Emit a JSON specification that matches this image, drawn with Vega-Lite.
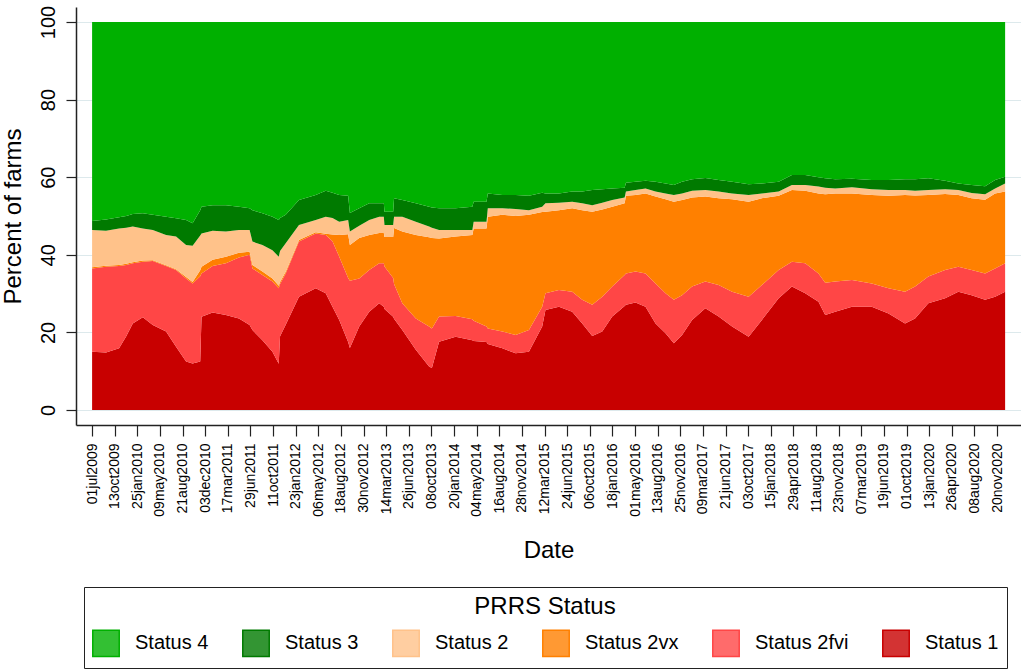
{
  "$schema": "https://vega.github.io/schema/vega-lite/v6.json",
  "width": 945,
  "height": 418,
  "autosize": "none",
  "padding": {"left": 76, "top": 7, "right": 0, "bottom": 244},
  "background": "white",
  "config": {
    "view": {"stroke": null},
    "font": "Liberation Sans",
    "axis": {"labelColor": "#000", "titleColor": "#000", "domainColor": "#222", "tickColor": "#222", "titleFontWeight": "normal"}
  },
  "data": {
    "values": [
      {"d":"2009-07-01","s":"Status 1","v":15.0},{"d":"2009-07-01","s":"Status 2fvi","v":21.5},{"d":"2009-07-01","s":"Status 2vx","v":0.3},{"d":"2009-07-01","s":"Status 2","v":9.6},{"d":"2009-07-01","s":"Status 3","v":2.3},{"d":"2009-07-01","s":"Status 4","v":51.3},
      {"d":"2009-09-03","s":"Status 1","v":14.8},{"d":"2009-09-03","s":"Status 2fvi","v":22.1},{"d":"2009-09-03","s":"Status 2vx","v":0.3},{"d":"2009-09-03","s":"Status 2","v":9.0},{"d":"2009-09-03","s":"Status 3","v":2.9},{"d":"2009-09-03","s":"Status 4","v":50.9},
      {"d":"2009-11-02","s":"Status 1","v":15.9},{"d":"2009-11-02","s":"Status 2fvi","v":21.2},{"d":"2009-11-02","s":"Status 2vx","v":0.3},{"d":"2009-11-02","s":"Status 2","v":9.4},{"d":"2009-11-02","s":"Status 3","v":2.9},{"d":"2009-11-02","s":"Status 4","v":50.3},
      {"d":"2009-12-05","s":"Status 1","v":19.0},{"d":"2009-12-05","s":"Status 2fvi","v":18.4},{"d":"2009-12-05","s":"Status 2vx","v":0.3},{"d":"2009-12-05","s":"Status 2","v":9.3},{"d":"2009-12-05","s":"Status 3","v":3.0},{"d":"2009-12-05","s":"Status 4","v":50.0},
      {"d":"2010-01-04","s":"Status 1","v":22.3},{"d":"2010-01-04","s":"Status 2fvi","v":15.5},{"d":"2010-01-04","s":"Status 2vx","v":0.3},{"d":"2010-01-04","s":"Status 2","v":9.2},{"d":"2010-01-04","s":"Status 3","v":3.2},{"d":"2010-01-04","s":"Status 4","v":49.5},
      {"d":"2010-02-19","s":"Status 1","v":23.9},{"d":"2010-02-19","s":"Status 2fvi","v":14.3},{"d":"2010-02-19","s":"Status 2vx","v":0.3},{"d":"2010-02-19","s":"Status 2","v":8.3},{"d":"2010-02-19","s":"Status 3","v":3.9},{"d":"2010-02-19","s":"Status 4","v":49.3},
      {"d":"2010-04-06","s":"Status 1","v":21.9},{"d":"2010-04-06","s":"Status 2fvi","v":16.5},{"d":"2010-04-06","s":"Status 2vx","v":0.2},{"d":"2010-04-06","s":"Status 2","v":7.8},{"d":"2010-04-06","s":"Status 3","v":3.9},{"d":"2010-04-06","s":"Status 4","v":49.7},
      {"d":"2010-06-06","s":"Status 1","v":20.2},{"d":"2010-06-06","s":"Status 2fvi","v":16.9},{"d":"2010-06-06","s":"Status 2vx","v":0.2},{"d":"2010-06-06","s":"Status 2","v":7.8},{"d":"2010-06-06","s":"Status 3","v":4.7},{"d":"2010-06-06","s":"Status 4","v":50.2},
      {"d":"2010-07-22","s":"Status 1","v":16.3},{"d":"2010-07-22","s":"Status 2fvi","v":19.8},{"d":"2010-07-22","s":"Status 2vx","v":0.2},{"d":"2010-07-22","s":"Status 2","v":8.4},{"d":"2010-07-22","s":"Status 3","v":4.7},{"d":"2010-07-22","s":"Status 4","v":50.6},
      {"d":"2010-09-06","s":"Status 1","v":12.5},{"d":"2010-09-06","s":"Status 2fvi","v":21.4},{"d":"2010-09-06","s":"Status 2vx","v":0.4},{"d":"2010-09-06","s":"Status 2","v":8.2},{"d":"2010-09-06","s":"Status 3","v":6.5},{"d":"2010-09-06","s":"Status 4","v":51.0},
      {"d":"2010-10-06","s":"Status 1","v":12.0},{"d":"2010-10-06","s":"Status 2fvi","v":20.6},{"d":"2010-10-06","s":"Status 2vx","v":0.4},{"d":"2010-10-06","s":"Status 2","v":9.3},{"d":"2010-10-06","s":"Status 3","v":5.8},{"d":"2010-10-06","s":"Status 4","v":51.9},
      {"d":"2010-11-10","s":"Status 1","v":12.5},{"d":"2010-11-10","s":"Status 2fvi","v":22.0},{"d":"2010-11-10","s":"Status 2vx","v":1.5},{"d":"2010-11-10","s":"Status 2","v":9.0},{"d":"2010-11-10","s":"Status 3","v":6.5},{"d":"2010-11-10","s":"Status 4","v":48.5},
      {"d":"2010-11-16","s":"Status 1","v":24.0},{"d":"2010-11-16","s":"Status 2fvi","v":11.2},{"d":"2010-11-16","s":"Status 2vx","v":1.7},{"d":"2010-11-16","s":"Status 2","v":8.6},{"d":"2010-11-16","s":"Status 3","v":6.9},{"d":"2010-11-16","s":"Status 4","v":47.6},
      {"d":"2011-01-06","s":"Status 1","v":25.1},{"d":"2011-01-06","s":"Status 2fvi","v":12.0},{"d":"2011-01-06","s":"Status 2vx","v":1.6},{"d":"2011-01-06","s":"Status 2","v":7.5},{"d":"2011-01-06","s":"Status 3","v":6.6},{"d":"2011-01-06","s":"Status 4","v":47.2},
      {"d":"2011-03-08","s":"Status 1","v":24.5},{"d":"2011-03-08","s":"Status 2fvi","v":13.3},{"d":"2011-03-08","s":"Status 2vx","v":1.7},{"d":"2011-03-08","s":"Status 2","v":6.5},{"d":"2011-03-08","s":"Status 3","v":6.8},{"d":"2011-03-08","s":"Status 4","v":47.2},
      {"d":"2011-05-07","s":"Status 1","v":23.6},{"d":"2011-05-07","s":"Status 2fvi","v":15.7},{"d":"2011-05-07","s":"Status 2vx","v":1.2},{"d":"2011-05-07","s":"Status 2","v":5.9},{"d":"2011-05-07","s":"Status 3","v":6.0},{"d":"2011-05-07","s":"Status 4","v":47.6},
      {"d":"2011-06-25","s":"Status 1","v":21.9},{"d":"2011-06-25","s":"Status 2fvi","v":18.1},{"d":"2011-06-25","s":"Status 2vx","v":0.8},{"d":"2011-06-25","s":"Status 2","v":5.6},{"d":"2011-06-25","s":"Status 3","v":5.6},{"d":"2011-06-25","s":"Status 4","v":48.0},
      {"d":"2011-07-08","s":"Status 1","v":20.6},{"d":"2011-07-08","s":"Status 2fvi","v":15.9},{"d":"2011-07-08","s":"Status 2vx","v":0.9},{"d":"2011-07-08","s":"Status 2","v":6.0},{"d":"2011-07-08","s":"Status 3","v":8.1},{"d":"2011-07-08","s":"Status 4","v":48.5},
      {"d":"2011-08-23","s":"Status 1","v":18.0},{"d":"2011-08-23","s":"Status 2fvi","v":16.8},{"d":"2011-08-23","s":"Status 2vx","v":0.9},{"d":"2011-08-23","s":"Status 2","v":6.8},{"d":"2011-08-23","s":"Status 3","v":8.2},{"d":"2011-08-23","s":"Status 4","v":49.3},
      {"d":"2011-10-08","s":"Status 1","v":15.0},{"d":"2011-10-08","s":"Status 2fvi","v":18.1},{"d":"2011-10-08","s":"Status 2vx","v":0.8},{"d":"2011-10-08","s":"Status 2","v":7.3},{"d":"2011-10-08","s":"Status 3","v":8.6},{"d":"2011-10-08","s":"Status 4","v":50.2},
      {"d":"2011-11-06","s":"Status 1","v":11.9},{"d":"2011-11-06","s":"Status 2fvi","v":19.5},{"d":"2011-11-06","s":"Status 2vx","v":0.6},{"d":"2011-11-06","s":"Status 2","v":7.5},{"d":"2011-11-06","s":"Status 3","v":9.5},{"d":"2011-11-06","s":"Status 4","v":51.0},
      {"d":"2011-11-12","s":"Status 1","v":19.0},{"d":"2011-11-12","s":"Status 2fvi","v":13.5},{"d":"2011-11-12","s":"Status 2vx","v":0.5},{"d":"2011-11-12","s":"Status 2","v":8.0},{"d":"2011-11-12","s":"Status 3","v":8.5},{"d":"2011-11-12","s":"Status 4","v":50.5},
      {"d":"2011-12-08","s":"Status 1","v":22.0},{"d":"2011-12-08","s":"Status 2fvi","v":13.2},{"d":"2011-12-08","s":"Status 2vx","v":0.4},{"d":"2011-12-08","s":"Status 2","v":7.4},{"d":"2011-12-08","s":"Status 3","v":7.3},{"d":"2011-12-08","s":"Status 4","v":49.7},
      {"d":"2012-02-07","s":"Status 1","v":29.2},{"d":"2012-02-07","s":"Status 2fvi","v":14.2},{"d":"2012-02-07","s":"Status 2vx","v":0.4},{"d":"2012-02-07","s":"Status 2","v":3.9},{"d":"2012-02-07","s":"Status 3","v":6.4},{"d":"2012-02-07","s":"Status 4","v":45.9},
      {"d":"2012-04-24","s":"Status 1","v":31.4},{"d":"2012-04-24","s":"Status 2fvi","v":14.1},{"d":"2012-04-24","s":"Status 2vx","v":0.3},{"d":"2012-04-24","s":"Status 2","v":3.2},{"d":"2012-04-24","s":"Status 3","v":6.4},{"d":"2012-04-24","s":"Status 4","v":44.6},
      {"d":"2012-06-09","s":"Status 1","v":30.1},{"d":"2012-06-09","s":"Status 2fvi","v":15.0},{"d":"2012-06-09","s":"Status 2vx","v":0.3},{"d":"2012-06-09","s":"Status 2","v":4.4},{"d":"2012-06-09","s":"Status 3","v":6.7},{"d":"2012-06-09","s":"Status 4","v":43.5},
      {"d":"2012-07-10","s":"Status 1","v":26.6},{"d":"2012-07-10","s":"Status 2fvi","v":16.9},{"d":"2012-07-10","s":"Status 2vx","v":1.7},{"d":"2012-07-10","s":"Status 2","v":4.3},{"d":"2012-07-10","s":"Status 3","v":6.5},{"d":"2012-07-10","s":"Status 4","v":44.0},
      {"d":"2012-08-10","s":"Status 1","v":23.2},{"d":"2012-08-10","s":"Status 2fvi","v":16.3},{"d":"2012-08-10","s":"Status 2vx","v":5.6},{"d":"2012-08-10","s":"Status 2","v":3.4},{"d":"2012-08-10","s":"Status 3","v":6.9},{"d":"2012-08-10","s":"Status 4","v":44.6},
      {"d":"2012-09-20","s":"Status 1","v":17.5},{"d":"2012-09-20","s":"Status 2fvi","v":16.5},{"d":"2012-09-20","s":"Status 2vx","v":11.3},{"d":"2012-09-20","s":"Status 2","v":3.7},{"d":"2012-09-20","s":"Status 3","v":6.2},{"d":"2012-09-20","s":"Status 4","v":44.8},
      {"d":"2012-09-28","s":"Status 1","v":16.0},{"d":"2012-09-28","s":"Status 2fvi","v":17.3},{"d":"2012-09-28","s":"Status 2vx","v":9.2},{"d":"2012-09-28","s":"Status 2","v":3.5},{"d":"2012-09-28","s":"Status 3","v":4.8},{"d":"2012-09-28","s":"Status 4","v":49.2},
      {"d":"2012-11-10","s":"Status 1","v":21.5},{"d":"2012-11-10","s":"Status 2fvi","v":12.4},{"d":"2012-11-10","s":"Status 2vx","v":10.4},{"d":"2012-11-10","s":"Status 2","v":3.2},{"d":"2012-11-10","s":"Status 3","v":4.5},{"d":"2012-11-10","s":"Status 4","v":48.0},
      {"d":"2012-12-26","s":"Status 1","v":25.3},{"d":"2012-12-26","s":"Status 2fvi","v":10.8},{"d":"2012-12-26","s":"Status 2vx","v":9.0},{"d":"2012-12-26","s":"Status 2","v":3.9},{"d":"2012-12-26","s":"Status 3","v":4.3},{"d":"2012-12-26","s":"Status 4","v":46.7},
      {"d":"2013-02-10","s":"Status 1","v":27.5},{"d":"2013-02-10","s":"Status 2fvi","v":10.3},{"d":"2013-02-10","s":"Status 2vx","v":7.8},{"d":"2013-02-10","s":"Status 2","v":4.2},{"d":"2013-02-10","s":"Status 3","v":3.5},{"d":"2013-02-10","s":"Status 4","v":46.7},
      {"d":"2013-03-03","s":"Status 1","v":26.6},{"d":"2013-03-03","s":"Status 2fvi","v":11.2},{"d":"2013-03-03","s":"Status 2vx","v":7.8},{"d":"2013-03-03","s":"Status 2","v":4.2},{"d":"2013-03-03","s":"Status 3","v":3.5},{"d":"2013-03-03","s":"Status 4","v":46.7},
      {"d":"2013-03-06","s":"Status 1","v":26.0},{"d":"2013-03-06","s":"Status 2fvi","v":11.0},{"d":"2013-03-06","s":"Status 2vx","v":7.6},{"d":"2013-03-06","s":"Status 2","v":3.1},{"d":"2013-03-06","s":"Status 3","v":3.4},{"d":"2013-03-06","s":"Status 4","v":48.9},
      {"d":"2013-04-15","s":"Status 1","v":24.0},{"d":"2013-04-15","s":"Status 2fvi","v":10.0},{"d":"2013-04-15","s":"Status 2vx","v":10.6},{"d":"2013-04-15","s":"Status 2","v":3.1},{"d":"2013-04-15","s":"Status 3","v":3.4},{"d":"2013-04-15","s":"Status 4","v":48.9},
      {"d":"2013-04-19","s":"Status 1","v":23.5},{"d":"2013-04-19","s":"Status 2fvi","v":9.0},{"d":"2013-04-19","s":"Status 2vx","v":14.4},{"d":"2013-04-19","s":"Status 2","v":2.9},{"d":"2013-04-19","s":"Status 3","v":4.8},{"d":"2013-04-19","s":"Status 4","v":45.4},
      {"d":"2013-05-27","s":"Status 1","v":20.6},{"d":"2013-05-27","s":"Status 2fvi","v":6.9},{"d":"2013-05-27","s":"Status 2vx","v":18.5},{"d":"2013-05-27","s":"Status 2","v":3.8},{"d":"2013-05-27","s":"Status 3","v":4.3},{"d":"2013-05-27","s":"Status 4","v":45.9},
      {"d":"2013-07-28","s":"Status 1","v":15.5},{"d":"2013-07-28","s":"Status 2fvi","v":8.1},{"d":"2013-07-28","s":"Status 2vx","v":21.5},{"d":"2013-07-28","s":"Status 2","v":3.4},{"d":"2013-07-28","s":"Status 3","v":4.8},{"d":"2013-07-28","s":"Status 4","v":46.7},
      {"d":"2013-09-27","s":"Status 1","v":11.2},{"d":"2013-09-27","s":"Status 2fvi","v":10.3},{"d":"2013-09-27","s":"Status 2vx","v":23.0},{"d":"2013-09-27","s":"Status 2","v":2.8},{"d":"2013-09-27","s":"Status 3","v":5.1},{"d":"2013-09-27","s":"Status 4","v":47.6},
      {"d":"2013-10-10","s":"Status 1","v":10.8},{"d":"2013-10-10","s":"Status 2fvi","v":10.2},{"d":"2013-10-10","s":"Status 2vx","v":23.3},{"d":"2013-10-10","s":"Status 2","v":2.7},{"d":"2013-10-10","s":"Status 3","v":5.2},{"d":"2013-10-10","s":"Status 4","v":47.8},
      {"d":"2013-11-12","s":"Status 1","v":17.6},{"d":"2013-11-12","s":"Status 2fvi","v":6.5},{"d":"2013-11-12","s":"Status 2vx","v":20.1},{"d":"2013-11-12","s":"Status 2","v":2.2},{"d":"2013-11-12","s":"Status 3","v":5.6},{"d":"2013-11-12","s":"Status 4","v":48.0},
      {"d":"2014-01-27","s":"Status 1","v":18.9},{"d":"2014-01-27","s":"Status 2fvi","v":5.3},{"d":"2014-01-27","s":"Status 2vx","v":20.5},{"d":"2014-01-27","s":"Status 2","v":1.7},{"d":"2014-01-27","s":"Status 3","v":5.6},{"d":"2014-01-27","s":"Status 4","v":48.0},
      {"d":"2014-04-14","s":"Status 1","v":18.0},{"d":"2014-04-14","s":"Status 2fvi","v":5.4},{"d":"2014-04-14","s":"Status 2vx","v":21.7},{"d":"2014-04-14","s":"Status 2","v":1.3},{"d":"2014-04-14","s":"Status 3","v":6.0},{"d":"2014-04-14","s":"Status 4","v":47.6},
      {"d":"2014-04-20","s":"Status 1","v":17.8},{"d":"2014-04-20","s":"Status 2fvi","v":5.2},{"d":"2014-04-20","s":"Status 2vx","v":23.8},{"d":"2014-04-20","s":"Status 2","v":1.7},{"d":"2014-04-20","s":"Status 3","v":5.2},{"d":"2014-04-20","s":"Status 4","v":46.3},
      {"d":"2014-06-18","s":"Status 1","v":17.5},{"d":"2014-06-18","s":"Status 2fvi","v":4.0},{"d":"2014-06-18","s":"Status 2vx","v":25.3},{"d":"2014-06-18","s":"Status 2","v":1.7},{"d":"2014-06-18","s":"Status 3","v":5.2},{"d":"2014-06-18","s":"Status 4","v":46.3},
      {"d":"2014-06-24","s":"Status 1","v":17.0},{"d":"2014-06-24","s":"Status 2fvi","v":4.0},{"d":"2014-06-24","s":"Status 2vx","v":28.8},{"d":"2014-06-24","s":"Status 2","v":2.2},{"d":"2014-06-24","s":"Status 3","v":3.8},{"d":"2014-06-24","s":"Status 4","v":44.2},
      {"d":"2014-08-30","s":"Status 1","v":15.9},{"d":"2014-08-30","s":"Status 2fvi","v":4.3},{"d":"2014-08-30","s":"Status 2vx","v":30.1},{"d":"2014-08-30","s":"Status 2","v":1.7},{"d":"2014-08-30","s":"Status 3","v":3.4},{"d":"2014-08-30","s":"Status 4","v":44.6},
      {"d":"2014-10-30","s":"Status 1","v":14.6},{"d":"2014-10-30","s":"Status 2fvi","v":4.7},{"d":"2014-10-30","s":"Status 2vx","v":30.7},{"d":"2014-10-30","s":"Status 2","v":1.8},{"d":"2014-10-30","s":"Status 3","v":3.6},{"d":"2014-10-30","s":"Status 4","v":44.6},
      {"d":"2014-12-30","s":"Status 1","v":15.0},{"d":"2014-12-30","s":"Status 2fvi","v":5.6},{"d":"2014-12-30","s":"Status 2vx","v":29.7},{"d":"2014-12-30","s":"Status 2","v":1.2},{"d":"2014-12-30","s":"Status 3","v":3.7},{"d":"2014-12-30","s":"Status 4","v":44.8},
      {"d":"2015-03-01","s":"Status 1","v":21.5},{"d":"2015-03-01","s":"Status 2fvi","v":5.1},{"d":"2015-03-01","s":"Status 2vx","v":24.4},{"d":"2015-03-01","s":"Status 2","v":1.4},{"d":"2015-03-01","s":"Status 3","v":3.6},{"d":"2015-03-01","s":"Status 4","v":44.0},
      {"d":"2015-03-16","s":"Status 1","v":25.8},{"d":"2015-03-16","s":"Status 2fvi","v":4.3},{"d":"2015-03-16","s":"Status 2vx","v":21.0},{"d":"2015-03-16","s":"Status 2","v":2.2},{"d":"2015-03-16","s":"Status 3","v":2.5},{"d":"2015-03-16","s":"Status 4","v":44.2},
      {"d":"2015-05-17","s":"Status 1","v":26.6},{"d":"2015-05-17","s":"Status 2fvi","v":4.3},{"d":"2015-05-17","s":"Status 2vx","v":20.6},{"d":"2015-05-17","s":"Status 2","v":1.9},{"d":"2015-05-17","s":"Status 3","v":2.4},{"d":"2015-05-17","s":"Status 4","v":44.2},
      {"d":"2015-07-17","s":"Status 1","v":25.3},{"d":"2015-07-17","s":"Status 2fvi","v":5.2},{"d":"2015-07-17","s":"Status 2vx","v":21.5},{"d":"2015-07-17","s":"Status 2","v":1.7},{"d":"2015-07-17","s":"Status 3","v":2.6},{"d":"2015-07-17","s":"Status 4","v":43.7},
      {"d":"2015-09-01","s":"Status 1","v":22.3},{"d":"2015-09-01","s":"Status 2fvi","v":6.1},{"d":"2015-09-01","s":"Status 2vx","v":23.1},{"d":"2015-09-01","s":"Status 2","v":1.8},{"d":"2015-09-01","s":"Status 3","v":3.0},{"d":"2015-09-01","s":"Status 4","v":43.7},
      {"d":"2015-10-17","s":"Status 1","v":19.1},{"d":"2015-10-17","s":"Status 2fvi","v":8.0},{"d":"2015-10-17","s":"Status 2vx","v":24.0},{"d":"2015-10-17","s":"Status 2","v":1.7},{"d":"2015-10-17","s":"Status 3","v":3.9},{"d":"2015-10-17","s":"Status 4","v":43.3},
      {"d":"2015-12-02","s":"Status 1","v":20.2},{"d":"2015-12-02","s":"Status 2fvi","v":9.0},{"d":"2015-12-02","s":"Status 2vx","v":22.5},{"d":"2015-12-02","s":"Status 2","v":1.7},{"d":"2015-12-02","s":"Status 3","v":3.5},{"d":"2015-12-02","s":"Status 4","v":43.1},
      {"d":"2016-01-17","s":"Status 1","v":24.1},{"d":"2016-01-17","s":"Status 2fvi","v":7.7},{"d":"2016-01-17","s":"Status 2vx","v":20.6},{"d":"2016-01-17","s":"Status 2","v":1.7},{"d":"2016-01-17","s":"Status 3","v":3.0},{"d":"2016-01-17","s":"Status 4","v":42.9},
      {"d":"2016-03-14","s":"Status 1","v":26.8},{"d":"2016-03-14","s":"Status 2fvi","v":8.0},{"d":"2016-03-14","s":"Status 2vx","v":18.5},{"d":"2016-03-14","s":"Status 2","v":1.5},{"d":"2016-03-14","s":"Status 3","v":2.5},{"d":"2016-03-14","s":"Status 4","v":42.7},
      {"d":"2016-03-20","s":"Status 1","v":27.1},{"d":"2016-03-20","s":"Status 2fvi","v":8.1},{"d":"2016-03-20","s":"Status 2vx","v":20.0},{"d":"2016-03-20","s":"Status 2","v":1.1},{"d":"2016-03-20","s":"Status 3","v":2.3},{"d":"2016-03-20","s":"Status 4","v":41.4},
      {"d":"2016-05-03","s":"Status 1","v":27.7},{"d":"2016-05-03","s":"Status 2fvi","v":8.0},{"d":"2016-05-03","s":"Status 2vx","v":19.7},{"d":"2016-05-03","s":"Status 2","v":1.3},{"d":"2016-05-03","s":"Status 3","v":2.1},{"d":"2016-05-03","s":"Status 4","v":41.2},
      {"d":"2016-06-18","s":"Status 1","v":26.6},{"d":"2016-06-18","s":"Status 2fvi","v":8.6},{"d":"2016-06-18","s":"Status 2vx","v":20.6},{"d":"2016-06-18","s":"Status 2","v":1.3},{"d":"2016-06-18","s":"Status 3","v":2.0},{"d":"2016-06-18","s":"Status 4","v":40.9},
      {"d":"2016-08-03","s":"Status 1","v":22.3},{"d":"2016-08-03","s":"Status 2fvi","v":10.3},{"d":"2016-08-03","s":"Status 2vx","v":22.4},{"d":"2016-08-03","s":"Status 2","v":1.3},{"d":"2016-08-03","s":"Status 3","v":2.5},{"d":"2016-08-03","s":"Status 4","v":41.2},
      {"d":"2016-09-18","s":"Status 1","v":19.8},{"d":"2016-09-18","s":"Status 2fvi","v":10.3},{"d":"2016-09-18","s":"Status 2vx","v":24.2},{"d":"2016-09-18","s":"Status 2","v":1.5},{"d":"2016-09-18","s":"Status 3","v":2.6},{"d":"2016-09-18","s":"Status 4","v":41.6},
      {"d":"2016-10-26","s":"Status 1","v":17.2},{"d":"2016-10-26","s":"Status 2fvi","v":11.2},{"d":"2016-10-26","s":"Status 2vx","v":25.3},{"d":"2016-10-26","s":"Status 2","v":1.7},{"d":"2016-10-26","s":"Status 3","v":2.6},{"d":"2016-10-26","s":"Status 4","v":42.0},
      {"d":"2016-12-03","s":"Status 1","v":19.3},{"d":"2016-12-03","s":"Status 2fvi","v":10.3},{"d":"2016-12-03","s":"Status 2vx","v":24.5},{"d":"2016-12-03","s":"Status 2","v":1.7},{"d":"2016-12-03","s":"Status 3","v":3.0},{"d":"2016-12-03","s":"Status 4","v":41.2},
      {"d":"2017-01-18","s":"Status 1","v":23.2},{"d":"2017-01-18","s":"Status 2fvi","v":8.6},{"d":"2017-01-18","s":"Status 2vx","v":23.0},{"d":"2017-01-18","s":"Status 2","v":1.7},{"d":"2017-01-18","s":"Status 3","v":3.0},{"d":"2017-01-18","s":"Status 4","v":40.5},
      {"d":"2017-03-20","s":"Status 1","v":26.2},{"d":"2017-03-20","s":"Status 2fvi","v":6.9},{"d":"2017-03-20","s":"Status 2vx","v":21.9},{"d":"2017-03-20","s":"Status 2","v":1.7},{"d":"2017-03-20","s":"Status 3","v":3.1},{"d":"2017-03-20","s":"Status 4","v":40.2},
      {"d":"2017-05-20","s":"Status 1","v":24.1},{"d":"2017-05-20","s":"Status 2fvi","v":8.1},{"d":"2017-05-20","s":"Status 2vx","v":22.4},{"d":"2017-05-20","s":"Status 2","v":1.7},{"d":"2017-05-20","s":"Status 3","v":3.0},{"d":"2017-05-20","s":"Status 4","v":40.7},
      {"d":"2017-07-21","s":"Status 1","v":21.5},{"d":"2017-07-21","s":"Status 2fvi","v":9.0},{"d":"2017-07-21","s":"Status 2vx","v":23.8},{"d":"2017-07-21","s":"Status 2","v":1.5},{"d":"2017-07-21","s":"Status 3","v":3.0},{"d":"2017-07-21","s":"Status 4","v":41.2},
      {"d":"2017-10-05","s":"Status 1","v":18.9},{"d":"2017-10-05","s":"Status 2fvi","v":10.3},{"d":"2017-10-05","s":"Status 2vx","v":24.5},{"d":"2017-10-05","s":"Status 2","v":1.7},{"d":"2017-10-05","s":"Status 3","v":2.8},{"d":"2017-10-05","s":"Status 4","v":41.8},
      {"d":"2017-12-05","s":"Status 1","v":23.2},{"d":"2017-12-05","s":"Status 2fvi","v":9.0},{"d":"2017-12-05","s":"Status 2vx","v":22.4},{"d":"2017-12-05","s":"Status 2","v":1.2},{"d":"2017-12-05","s":"Status 3","v":2.6},{"d":"2017-12-05","s":"Status 4","v":41.6},
      {"d":"2018-02-20","s":"Status 1","v":28.8},{"d":"2018-02-20","s":"Status 2fvi","v":7.3},{"d":"2018-02-20","s":"Status 2vx","v":19.1},{"d":"2018-02-20","s":"Status 2","v":1.1},{"d":"2018-02-20","s":"Status 3","v":2.5},{"d":"2018-02-20","s":"Status 4","v":41.2},
      {"d":"2018-04-22","s":"Status 1","v":31.8},{"d":"2018-04-22","s":"Status 2fvi","v":6.4},{"d":"2018-04-22","s":"Status 2vx","v":18.5},{"d":"2018-04-22","s":"Status 2","v":1.3},{"d":"2018-04-22","s":"Status 3","v":2.6},{"d":"2018-04-22","s":"Status 4","v":39.4},
      {"d":"2018-06-22","s":"Status 1","v":30.1},{"d":"2018-06-22","s":"Status 2fvi","v":7.7},{"d":"2018-06-22","s":"Status 2vx","v":18.7},{"d":"2018-06-22","s":"Status 2","v":1.5},{"d":"2018-06-22","s":"Status 3","v":2.6},{"d":"2018-06-22","s":"Status 4","v":39.4},
      {"d":"2018-08-22","s":"Status 1","v":27.9},{"d":"2018-08-22","s":"Status 2fvi","v":7.3},{"d":"2018-08-22","s":"Status 2vx","v":20.6},{"d":"2018-08-22","s":"Status 2","v":1.8},{"d":"2018-08-22","s":"Status 3","v":2.4},{"d":"2018-08-22","s":"Status 4","v":40.0},
      {"d":"2018-09-22","s":"Status 1","v":24.5},{"d":"2018-09-22","s":"Status 2fvi","v":8.3},{"d":"2018-09-22","s":"Status 2vx","v":22.8},{"d":"2018-09-22","s":"Status 2","v":1.7},{"d":"2018-09-22","s":"Status 3","v":2.4},{"d":"2018-09-22","s":"Status 4","v":40.3},
      {"d":"2018-11-07","s":"Status 1","v":25.3},{"d":"2018-11-07","s":"Status 2fvi","v":7.8},{"d":"2018-11-07","s":"Status 2vx","v":22.7},{"d":"2018-11-07","s":"Status 2","v":1.3},{"d":"2018-11-07","s":"Status 3","v":2.4},{"d":"2018-11-07","s":"Status 4","v":40.5},
      {"d":"2019-01-23","s":"Status 1","v":26.6},{"d":"2019-01-23","s":"Status 2fvi","v":6.9},{"d":"2019-01-23","s":"Status 2vx","v":22.3},{"d":"2019-01-23","s":"Status 2","v":1.6},{"d":"2019-01-23","s":"Status 3","v":2.2},{"d":"2019-01-23","s":"Status 4","v":40.4},
      {"d":"2019-04-24","s":"Status 1","v":26.6},{"d":"2019-04-24","s":"Status 2fvi","v":6.0},{"d":"2019-04-24","s":"Status 2vx","v":22.8},{"d":"2019-04-24","s":"Status 2","v":1.5},{"d":"2019-04-24","s":"Status 3","v":2.4},{"d":"2019-04-24","s":"Status 4","v":40.7},
      {"d":"2019-07-10","s":"Status 1","v":24.9},{"d":"2019-07-10","s":"Status 2fvi","v":6.5},{"d":"2019-07-10","s":"Status 2vx","v":23.8},{"d":"2019-07-10","s":"Status 2","v":1.5},{"d":"2019-07-10","s":"Status 3","v":2.6},{"d":"2019-07-10","s":"Status 4","v":40.7},
      {"d":"2019-09-24","s":"Status 1","v":22.3},{"d":"2019-09-24","s":"Status 2fvi","v":8.2},{"d":"2019-09-24","s":"Status 2vx","v":24.9},{"d":"2019-09-24","s":"Status 2","v":1.3},{"d":"2019-09-24","s":"Status 3","v":2.8},{"d":"2019-09-24","s":"Status 4","v":40.5},
      {"d":"2019-11-09","s":"Status 1","v":23.6},{"d":"2019-11-09","s":"Status 2fvi","v":8.2},{"d":"2019-11-09","s":"Status 2vx","v":23.5},{"d":"2019-11-09","s":"Status 2","v":1.2},{"d":"2019-11-09","s":"Status 3","v":3.0},{"d":"2019-11-09","s":"Status 4","v":40.5},
      {"d":"2020-01-09","s":"Status 1","v":27.5},{"d":"2020-01-09","s":"Status 2fvi","v":6.9},{"d":"2020-01-09","s":"Status 2vx","v":21.0},{"d":"2020-01-09","s":"Status 2","v":1.3},{"d":"2020-01-09","s":"Status 3","v":3.0},{"d":"2020-01-09","s":"Status 4","v":40.3},
      {"d":"2020-03-26","s":"Status 1","v":28.8},{"d":"2020-03-26","s":"Status 2fvi","v":7.3},{"d":"2020-03-26","s":"Status 2vx","v":19.6},{"d":"2020-03-26","s":"Status 2","v":1.2},{"d":"2020-03-26","s":"Status 3","v":2.2},{"d":"2020-03-26","s":"Status 4","v":40.9},
      {"d":"2020-05-26","s":"Status 1","v":30.5},{"d":"2020-05-26","s":"Status 2fvi","v":6.4},{"d":"2020-05-26","s":"Status 2vx","v":18.5},{"d":"2020-05-26","s":"Status 2","v":1.3},{"d":"2020-05-26","s":"Status 3","v":1.7},{"d":"2020-05-26","s":"Status 4","v":41.6},
      {"d":"2020-07-26","s":"Status 1","v":29.6},{"d":"2020-07-26","s":"Status 2fvi","v":6.5},{"d":"2020-07-26","s":"Status 2vx","v":18.5},{"d":"2020-07-26","s":"Status 2","v":1.3},{"d":"2020-07-26","s":"Status 3","v":2.1},{"d":"2020-07-26","s":"Status 4","v":42.0},
      {"d":"2020-09-26","s":"Status 1","v":28.4},{"d":"2020-09-26","s":"Status 2fvi","v":6.8},{"d":"2020-09-26","s":"Status 2vx","v":19.0},{"d":"2020-09-26","s":"Status 2","v":1.4},{"d":"2020-09-26","s":"Status 3","v":2.1},{"d":"2020-09-26","s":"Status 4","v":42.3},
      {"d":"2020-11-11","s":"Status 1","v":29.2},{"d":"2020-11-11","s":"Status 2fvi","v":7.3},{"d":"2020-11-11","s":"Status 2vx","v":19.3},{"d":"2020-11-11","s":"Status 2","v":1.3},{"d":"2020-11-11","s":"Status 3","v":2.2},{"d":"2020-11-11","s":"Status 4","v":40.7},
      {"d":"2020-12-27","s":"Status 1","v":30.5},{"d":"2020-12-27","s":"Status 2fvi","v":7.3},{"d":"2020-12-27","s":"Status 2vx","v":18.5},{"d":"2020-12-27","s":"Status 2","v":2.1},{"d":"2020-12-27","s":"Status 3","v":1.7},{"d":"2020-12-27","s":"Status 4","v":39.9}
    ]
  },
  "transform": [
    {"calculate": "indexof(['Status 1','Status 2fvi','Status 2vx','Status 2','Status 3','Status 4'], datum.s)", "as": "k"}
  ],
  "mark": {"type": "area", "interpolate": "linear"},
  "encoding": {
    "x": {
      "field": "d",
      "type": "temporal",
      "scale": {"type": "utc", "domain": [{"year": 2009, "month": 4, "date": 18, "utc": true}, {"year": 2021, "month": 3, "date": 10, "utc": true}]},
      "axis": {
        "title": "Date",
        "titleFontSize": 24,
        "titleY": 125,
        "titleBaseline": "middle",
        "grid": false,
        "domainWidth": 1.5,
        "tickSize": 11,
        "tickWidth": 1.2,
        "labelAngle": -90,
        "labelAlign": "right",
        "labelBaseline": "middle",
        "labelPadding": 7,
        "labelFontSize": 14,
        "labelOverlap": false,
        "labelFlush": false,
        "labelExpr": "lower(utcFormat(datum.value, '%d%b%Y'))",
        "values": [
          {"year": 2009, "month": 7, "date": 1, "utc": true},
          {"year": 2009, "month": 10, "date": 13, "utc": true},
          {"year": 2010, "month": 1, "date": 25, "utc": true},
          {"year": 2010, "month": 5, "date": 9, "utc": true},
          {"year": 2010, "month": 8, "date": 21, "utc": true},
          {"year": 2010, "month": 12, "date": 3, "utc": true},
          {"year": 2011, "month": 3, "date": 17, "utc": true},
          {"year": 2011, "month": 6, "date": 29, "utc": true},
          {"year": 2011, "month": 10, "date": 11, "utc": true},
          {"year": 2012, "month": 1, "date": 23, "utc": true},
          {"year": 2012, "month": 5, "date": 6, "utc": true},
          {"year": 2012, "month": 8, "date": 18, "utc": true},
          {"year": 2012, "month": 11, "date": 30, "utc": true},
          {"year": 2013, "month": 3, "date": 14, "utc": true},
          {"year": 2013, "month": 6, "date": 26, "utc": true},
          {"year": 2013, "month": 10, "date": 8, "utc": true},
          {"year": 2014, "month": 1, "date": 20, "utc": true},
          {"year": 2014, "month": 5, "date": 4, "utc": true},
          {"year": 2014, "month": 8, "date": 16, "utc": true},
          {"year": 2014, "month": 11, "date": 28, "utc": true},
          {"year": 2015, "month": 3, "date": 12, "utc": true},
          {"year": 2015, "month": 6, "date": 24, "utc": true},
          {"year": 2015, "month": 10, "date": 6, "utc": true},
          {"year": 2016, "month": 1, "date": 18, "utc": true},
          {"year": 2016, "month": 5, "date": 1, "utc": true},
          {"year": 2016, "month": 8, "date": 13, "utc": true},
          {"year": 2016, "month": 11, "date": 25, "utc": true},
          {"year": 2017, "month": 3, "date": 9, "utc": true},
          {"year": 2017, "month": 6, "date": 21, "utc": true},
          {"year": 2017, "month": 10, "date": 3, "utc": true},
          {"year": 2018, "month": 1, "date": 15, "utc": true},
          {"year": 2018, "month": 4, "date": 29, "utc": true},
          {"year": 2018, "month": 8, "date": 11, "utc": true},
          {"year": 2018, "month": 11, "date": 23, "utc": true},
          {"year": 2019, "month": 3, "date": 7, "utc": true},
          {"year": 2019, "month": 6, "date": 19, "utc": true},
          {"year": 2019, "month": 10, "date": 1, "utc": true},
          {"year": 2020, "month": 1, "date": 13, "utc": true},
          {"year": 2020, "month": 4, "date": 26, "utc": true},
          {"year": 2020, "month": 8, "date": 8, "utc": true},
          {"year": 2020, "month": 11, "date": 20, "utc": true}
        ]
      }
    },
    "y": {
      "field": "v",
      "type": "quantitative",
      "stack": "zero",
      "scale": {"domain": [-3.87, 103.87], "nice": false, "zero": false},
      "axis": {
        "title": "Percent of farms",
        "titleFontSize": 24,
        "titleAngle": -90,
        "titleX": -63,
        "titleY": 209,
        "titleAlign": "center",
        "titleBaseline": "middle",
        "values": [0, 20, 40, 60, 80, 100],
        "grid": true,
        "gridColor": "#dde9ec",
        "gridWidth": 1,
        "domainWidth": 1.5,
        "tickSize": 10,
        "tickWidth": 1.2,
        "labelAngle": -90,
        "labelAlign": "center",
        "labelBaseline": "alphabetic",
        "labelPadding": 12,
        "labelFontSize": 20
      }
    },
    "color": {
      "field": "s",
      "type": "nominal",
      "scale": {
        "domain": ["Status 4", "Status 3", "Status 2", "Status 2vx", "Status 2fvi", "Status 1"],
        "range": ["#00b000", "#007a00", "#ffc28a", "#ff8000", "#ff4646", "#c80000"]
      },
      "legend": {
        "title": "PRRS Status",
        "orient": "none",
        "legendX": 8,
        "legendY": 580,
        "direction": "horizontal",
        "titleFontSize": 24,
        "titleFontWeight": "normal",
        "titleColor": "#000",
        "titleAnchor": "middle",
        "titlePadding": 10,
        "labelFontSize": 20,
        "labelColor": "#000",
        "labelOffset": 15,
        "columnPadding": 30,
        "symbolType": "square",
        "symbolSize": 700,
        "symbolStrokeWidth": 1.5,
        "strokeColor": "#222",
        "padding": 8,
        "encode": {
          "symbols": {
            "update": {
              "fillOpacity": {"value": 0.8},
              "stroke": {"scale": "color", "field": "value"},
              "strokeWidth": {"value": 1.5}
            }
          }
        }
      }
    },
    "order": {"field": "k", "type": "quantitative"}
  }
}
